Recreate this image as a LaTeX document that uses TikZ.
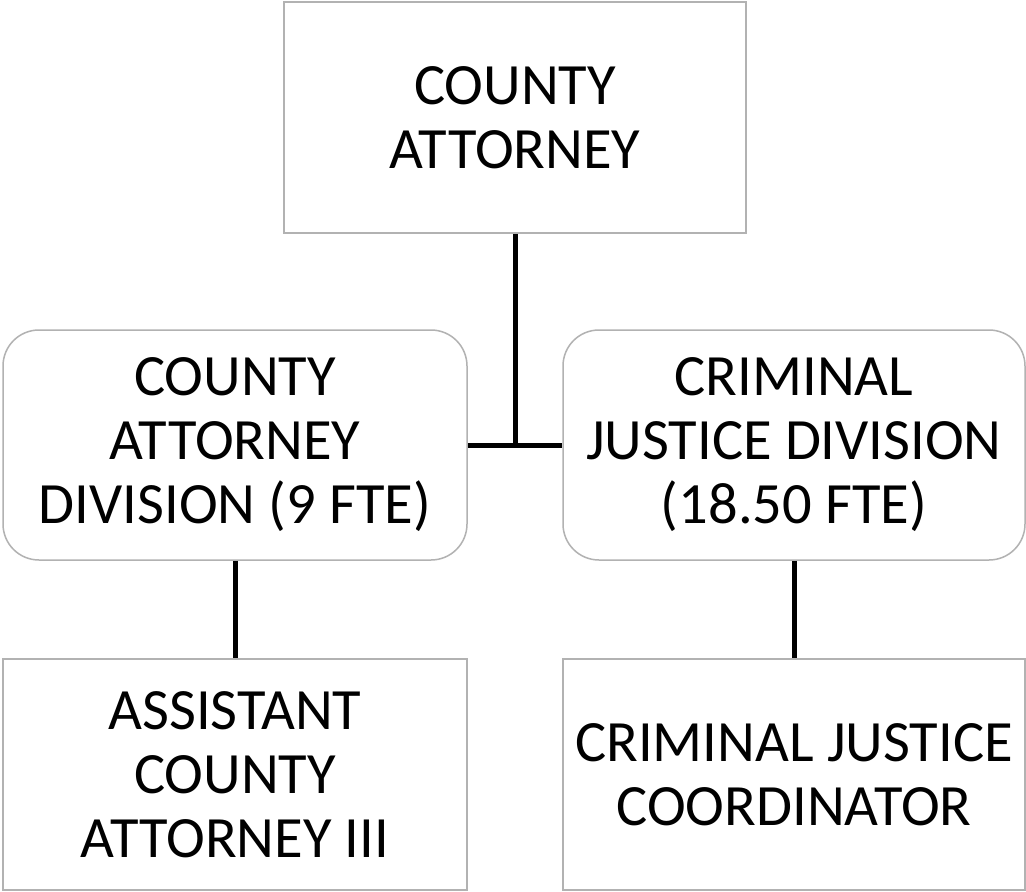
\documentclass[tikz,border=0pt]{standalone}
\usepackage{fontspec}
\setmainfont{Carlito}
\begin{document}
\begin{tikzpicture}[x=1pt,y=-1pt,
  box/.style={draw=black!30, line width=1.5pt, fill=white, minimum width=462pt, minimum height=231pt,
    align=center, inner sep=0pt, font=\fontsize{58.5}{64}\selectfont},
  rbox/.style={box, rounded corners=36pt},
  link/.style={line width=5pt, black}]
\useasboundingbox (0,0) rectangle (1026,892);
\fill[white] (0,0) rectangle (1026,892);
\node[box, minimum width=462pt] (top) at (515,117.5) {COUNTY\\ATTORNEY};
\node[rbox, minimum width=464pt, minimum height=230pt] (cad) at (235,445) {COUNTY\\ATTORNEY\\DIVISION (9 FTE)};
\node[rbox, minimum width=462pt, minimum height=230pt] (cjd) at (794,445) {CRIMINAL\\JUSTICE DIVISION\\(18.50 FTE)};
\node[box, minimum width=464pt] (aca) at (235,774.5) {ASSISTANT\\COUNTY\\ATTORNEY III};
\node[box, minimum width=462pt] (cjc) at (794,774.5) {CRIMINAL JUSTICE\\COORDINATOR};
\coordinate (j) at (top.south |- cad.east);
\draw[link] (top.south) -- (j);
\draw[link] (cad.east) -- (cjd.west);
\draw[link] (cad.south) -- (aca.north);
\draw[link] (cjd.south) -- (cjc.north);
\end{tikzpicture}
\end{document}
